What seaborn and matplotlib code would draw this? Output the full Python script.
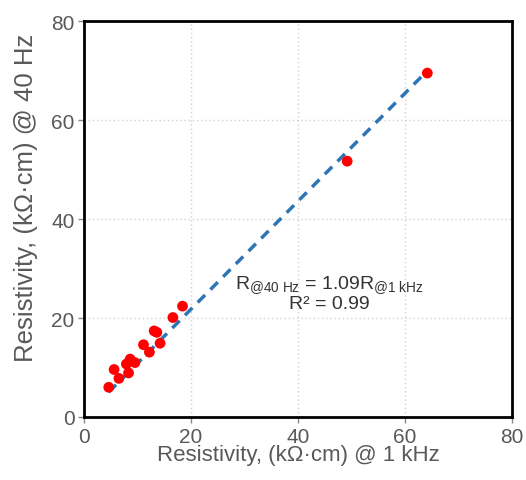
import numpy as np
import pandas as pd
import matplotlib
matplotlib.use("Agg")
import matplotlib.pyplot as plt
import seaborn as sns

# data
r_1khz = [4.6, 5.6, 6.5, 8.3, 8.6, 7.9, 9.5, 11.1, 12.2, 13.1, 13.6, 14.2, 16.6, 18.4, 49.2, 64.2]
r_40hz = [6.0, 9.6, 7.8, 8.9, 11.7, 10.7, 11.0, 14.6, 13.1, 17.4, 17.1, 14.9, 20.1, 22.4, 51.7, 69.5]
fit_x = [4.6, 64.5]
slope = 1.09
ticks = [0, 20, 40, 60, 80]

sns.set_theme(style="white")
plt.rcParams['font.family'] = ['Liberation Sans', 'DejaVu Sans']
plt.rcParams['mathtext.fontset'] = 'custom'
plt.rcParams['mathtext.rm'] = 'Liberation Sans'
plt.rcParams['mathtext.it'] = 'Liberation Sans'

df = pd.DataFrame({"x": r_1khz, "y": r_40hz})
fit = pd.DataFrame({"x": fit_x, "y": [slope * v for v in fit_x]})

fig = plt.figure(figsize=(5.26, 4.81), dpi=100)
ax = fig.add_axes([0.160, 0.131, 0.813, 0.823])

ax.grid(True, color="#d0d0d0", linestyle=(0, (1, 2)), linewidth=1)
ax.set_axisbelow(True)

sns.lineplot(data=fit, x="x", y="y", ax=ax, color="#2E75B6", linewidth=2.5,
             linestyle=(0, (3, 2.2)), zorder=2)
sns.scatterplot(data=df, x="x", y="y", ax=ax, color="#FF0000", s=60,
                edgecolor="none", zorder=3)

ax.set_xlim(0, 80)
ax.set_ylim(0, 80)
ax.set_xticks(ticks)
ax.set_yticks(ticks)
ax.tick_params(axis="both", labelsize=15, labelcolor="#595959", color="#888888",
               length=4, width=1, direction="out", bottom=True, left=True, pad=3)
for s in ax.spines.values():
    s.set_color("black")
    s.set_linewidth(2)

ax.set_xlabel("Resistivity, (kΩ·cm) @ 1 kHz", fontsize=16, color="#595959", labelpad=-1)
ax.set_ylabel("Resistivity, (kΩ·cm) @ 40 Hz", fontsize=18.5, color="#595959")
ax.yaxis.set_label_coords(-0.108, 0.557)

ax.text(45.9, 26.9, r"$\mathregular{R_{@40\ Hz}}$ = 1.09$\mathregular{R_{@1\ kHz}}$",
        ha="center", va="center", fontsize=14, color="#333333")
ax.text(45.9, 23.0, "R² = 0.99", ha="center", va="center", fontsize=14, color="#333333")

fig.savefig("out.png", dpi=100)
